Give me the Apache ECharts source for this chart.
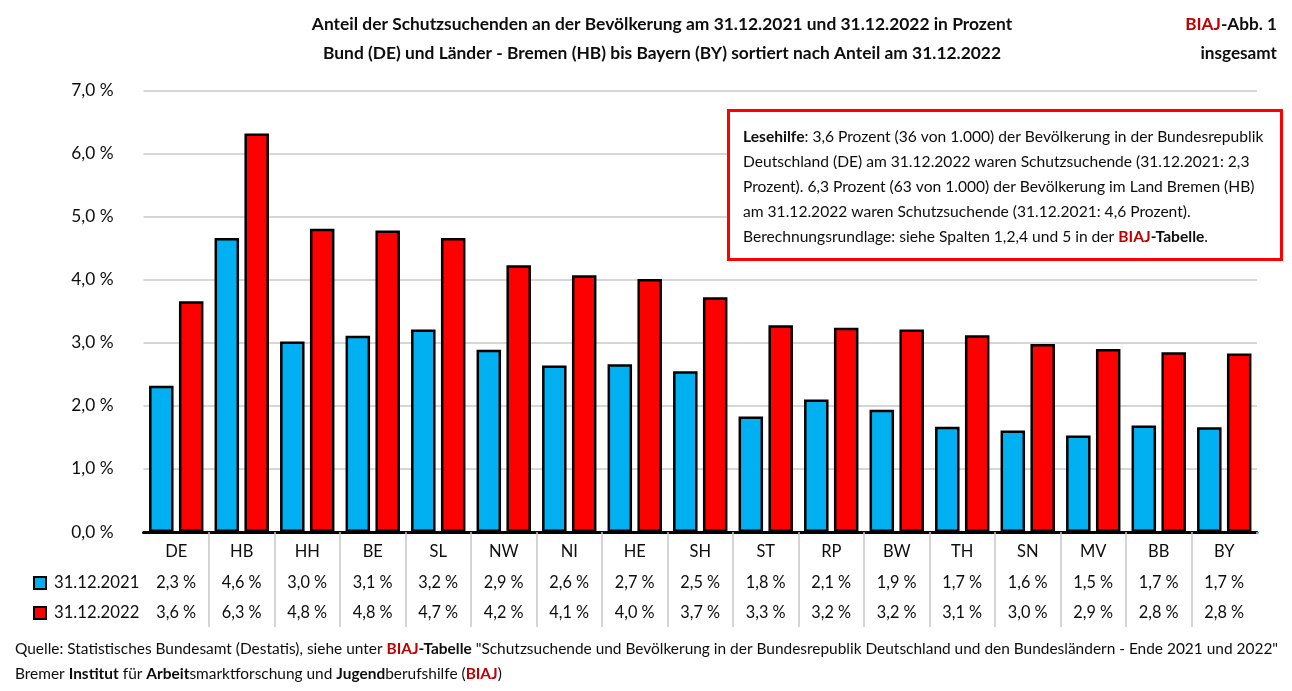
<!DOCTYPE html>
<html>
<head>
<meta charset="utf-8">
<style>
  html, body { margin: 0; padding: 0; background: #fff; }
  #chart { width: 1292px; height: 691px; }
</style>
<script src="https://cdn.jsdelivr.net/npm/echarts@6/dist/echarts.min.js"></script>
</head>
<body>
<div id="chart"></div>
<script>
const categories = ['DE', 'HB', 'HH', 'BE', 'SL', 'NW', 'NI', 'HE', 'SH', 'ST', 'RP', 'BW', 'TH', 'SN', 'MV', 'BB', 'BY'];
const values2021 = [2.32, 4.66, 3.02, 3.11, 3.21, 2.89, 2.64, 2.66, 2.55, 1.83, 2.10, 1.94, 1.67, 1.61, 1.53, 1.69, 1.66];
const values2022 = [3.66, 6.32, 4.81, 4.78, 4.66, 4.23, 4.07, 4.01, 3.72, 3.28, 3.24, 3.21, 3.12, 2.98, 2.90, 2.85, 2.83];
const table2021 = ['2,3', '4,6', '3,0', '3,1', '3,2', '2,9', '2,6', '2,7', '2,5', '1,8', '2,1', '1,9', '1,7', '1,6', '1,5', '1,7', '1,7'];
const table2022 = ['3,6', '6,3', '4,8', '4,8', '4,7', '4,2', '4,1', '4,0', '3,7', '3,3', '3,2', '3,2', '3,1', '3,0', '2,9', '2,8', '2,8'];

const FONT = 'Lato';
const BLUE = '#00b0f0';
const RED = '#ff0000';
const DARKRED = '#c00000';
const INK = '#0d0d0d';

function textBlock(x, y, text, size, lineHeight, align) {
  const base = { fontFamily: FONT, fontSize: size, lineHeight: lineHeight };
  return {
    type: 'text', x: x, y: y,
    style: {
      text: text, align: align || 'left', verticalAlign: 'top',
      fontFamily: FONT, fontSize: size, lineHeight: lineHeight, fill: INK,
      rich: {
        b: Object.assign({}, base, { fontWeight: 'bold', fill: INK }),
        n: Object.assign({}, base, { fill: INK }),
        r: Object.assign({}, base, { fontWeight: 'bold', fill: DARKRED })
      }
    }
  };
}

const chart = echarts.init(document.getElementById('chart'));
chart.setOption({
  backgroundColor: '#fff',
  animation: false,
  grid: { left: 143.5, right: 35, top: 90.5, bottom: 159 },
  legend: {
    orient: 'vertical', left: 28, top: 569, itemWidth: 12, itemHeight: 12, itemGap: 12, icon: 'rect',
    textStyle: { fontFamily: FONT, fontSize: 16.7, color: INK, lineHeight: 18, padding: [0, 0, 0, 3] },
    data: ['31.12.2021', '31.12.2022']
  },
  xAxis: {
    type: 'category',
    data: categories,
    axisLine: { lineStyle: { color: '#000', width: 3 } },
    axisTick: {
      show: true,
      length: 95,
      lineStyle: { color: '#c8c8c8', width: 1.5 },
      interval: function (i) { return i > 0; }
    },
    axisLabel: {
      interval: 0,
      margin: 4,
      formatter: function (v, i) {
        return '{c|' + v + '}\n{v|' + table2021[i] + ' %}\n{v|' + table2022[i] + ' %}';
      },
      rich: {
        c: { fontFamily: FONT, fontSize: 16.5, color: INK, lineHeight: 32 },
        v: { fontFamily: FONT, fontSize: 16.3, color: INK, lineHeight: 30 }
      }
    }
  },
  yAxis: {
    type: 'value', min: 0, max: 7, interval: 1,
    axisLine: { show: false },
    axisTick: { show: false },
    axisLabel: {
      margin: 30, fontFamily: FONT, fontSize: 17.3, color: INK,
      formatter: function (v) { return v.toFixed(1).replace('.', ',') + ' %'; }
    },
    splitLine: { lineStyle: { color: '#c8c8c8', width: 1.5 } }
  },
  series: [
    {
      name: '31.12.2021', type: 'bar', data: values2021, barWidth: 24.5, barGap: '22%',
      itemStyle: { color: BLUE, borderColor: '#000', borderWidth: 2.5 }
    },
    {
      name: '31.12.2022', type: 'bar', data: values2022, barWidth: 24.5, barGap: '22%',
      itemStyle: { color: RED, borderColor: '#000', borderWidth: 2.5 }
    }
  ],
  graphic: [
    // the axis always draws its closing tick, the reference has none there
    {
      type: 'rect',
      shape: { x: 1254, y: 534.5, width: 6, height: 96 },
      style: { fill: '#fff' },
      z: 50
    },
    textBlock(662, 10,
      '{b|Anteil der Schutzsuchenden an der Bevölkerung am 31.12.2021 und 31.12.2022 in Prozent}\n' +
      '{b|Bund (DE) und Länder - Bremen (HB) bis Bayern (BY) sortiert nach Anteil am 31.12.2022}', 17.4, 29, 'center'),
    textBlock(1277, 10, '{r|BIAJ}{b|-Abb. 1}\n{b|insgesamt}', 17.2, 29, 'right'),
    {
      type: 'rect',
      shape: { x: 728.5, y: 110.5, width: 553, height: 149 },
      style: { fill: '#fff', stroke: RED, lineWidth: 3 },
      z: 50
    },
    Object.assign(textBlock(743, 124,
      '{b|Lesehilfe}{n|: 3,6 Prozent (36 von 1.000) der Bevölkerung in der Bundesrepublik}\n' +
      '{n|Deutschland (DE) am 31.12.2022 waren Schutzsuchende (31.12.2021: 2,3}\n' +
      '{n|Prozent). 6,3 Prozent (63 von 1.000) der Bevölkerung im Land Bremen (HB)}\n' +
      '{n|am 31.12.2022 waren Schutzsuchende (31.12.2021: 4,6 Prozent).}\n' +
      '{n|Berechnungsrundlage: siehe Spalten 1,2,4 und 5 in der }{r|BIAJ}{b|-Tabelle}{n|.}', 15.6, 25), { z: 51 }),
    textBlock(15, 637,
      '{n|Quelle: Statistisches Bundesamt (Destatis), siehe unter }{r|BIAJ}{b|-Tabelle}{n| "Schutzsuchende und Bevölkerung in der Bundesrepublik Deutschland und den Bundesländern - Ende 2021 und 2022"}\n' +
      '{n|Bremer }{b|Institut}{n| für }{b|Arbeit}{n|smarktforschung und }{b|Jugend}{n|berufshilfe (}{r|BIAJ}{n|)}', 15.45, 25)
  ]
});
</script>
</body>
</html>
